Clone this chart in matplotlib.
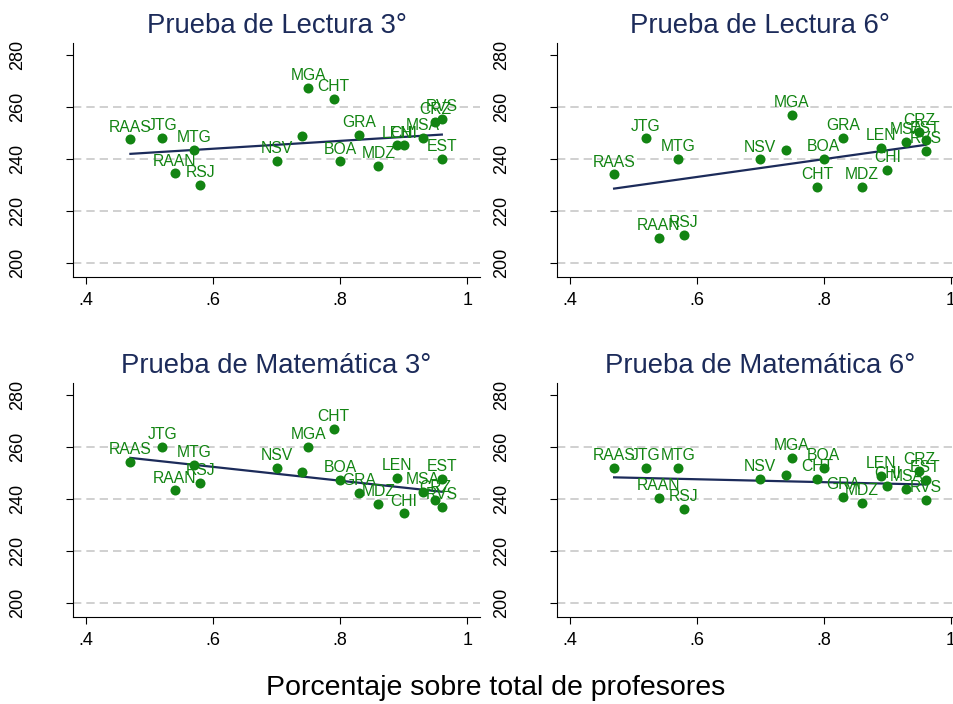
import numpy as np
import matplotlib
matplotlib.use('Agg')
import matplotlib.pyplot as plt

plt.rcParams['font.family'] = ['Liberation Sans', 'DejaVu Sans']

# departamentos (el punto sin etiqueta no lleva nombre en el original)
depto = ["RAAS", "JTG", "RAAN", "MTG", "RSJ", "NSV", "", "MGA", "CHT",
         "BOA", "GRA", "MDZ", "LEN", "CHI", "MSA", "CRZ", "RVS", "EST"]
pct_prof = [0.47, 0.52, 0.54, 0.57, 0.58, 0.70, 0.74, 0.75, 0.79,
            0.80, 0.83, 0.86, 0.89, 0.90, 0.93, 0.95, 0.96, 0.96]

lectura_3 = [247.6, 248.1, 234.5, 243.7, 230.0, 239.3, 249.1, 267.4, 263.1,
             239.1, 249.3, 237.3, 245.3, 245.3, 248.1, 254.2, 255.5, 240.0]
lectura_6 = [234.1, 248.0, 209.6, 240.1, 210.8, 239.9, 243.6, 257.0, 229.3,
             240.1, 248.3, 229.2, 244.3, 235.8, 246.5, 250.3, 243.3, 247.2]
mate_3 = [254.5, 260.1, 243.4, 253.3, 246.4, 252.1, 250.6, 260.1, 267.2,
          247.5, 242.4, 238.3, 248.2, 234.5, 242.8, 239.6, 237.0, 247.9]
mate_6 = [252.0, 252.0, 240.5, 252.0, 236.4, 247.8, 249.3, 256.0, 247.9,
          252.1, 241.0, 238.7, 249.0, 245.1, 244.0, 250.7, 239.8, 247.5]

titulos = ["Prueba de Lectura 3°", "Prueba de Lectura 6°",
           "Prueba de Matemática 3°", "Prueba de Matemática 6°"]
series = [lectura_3, lectura_6, mate_3, mate_6]

yticks = [200, 220, 240, 260, 280]
ygrid = [200, 220, 240, 260]
xticks = [0.4, 0.6, 0.8, 1.0]
xticklabels = [".4", ".6", ".8", "1"]

verde = '#128412'
navy = '#1c2b5a'

fig = plt.figure(figsize=(9.54, 7.04), dpi=100)
posiciones = [[0.0765, 0.607, 0.4266, 0.332],
              [0.5835, 0.607, 0.4266, 0.332],
              [0.0765, 0.124, 0.4266, 0.332],
              [0.5835, 0.124, 0.4266, 0.332]]

for pos, titulo, y in zip(posiciones, titulos, series):
    ax = fig.add_axes(pos)
    x = np.array(pct_prof)
    y = np.array(y)
    for g in ygrid:
        ax.axhline(g, color='#c8c8c8', lw=1.2, dashes=(5, 3), zorder=0)
    ax.scatter(x, y, s=52, color=verde, zorder=3, linewidths=0)
    for nombre, xi, yi in zip(depto, x, y):
        if nombre:
            ax.annotate(nombre, (xi, yi), xytext=(0, 3.5), textcoords='offset points',
                        ha='center', va='bottom', fontsize=11.3, color=verde, zorder=4)
    # recta de ajuste lineal
    b, a = np.polyfit(x, y, 1)
    xs = np.array([x.min(), x.max()])
    ax.plot(xs, a + b * xs, color=navy, lw=1.6, zorder=2)

    ax.set_xlim(0.3796, 1.02)
    ax.set_ylim(194.7, 284.8)
    ax.set_xticks(xticks)
    ax.set_xticklabels(xticklabels)
    ax.set_yticks(yticks)
    ax.spines['top'].set_visible(False)
    ax.spines['right'].set_visible(False)
    ax.spines['left'].set_linewidth(0.8)
    ax.spines['bottom'].set_linewidth(0.8)
    ax.tick_params(axis='x', length=4.8, width=0.8, labelsize=13, pad=6)
    ax.tick_params(axis='y', length=4.8, width=0.8, labelsize=13, pad=29)
    plt.setp(ax.get_yticklabels(), rotation=90, va='center')
    ax.set_title(titulo, fontsize=19.8, color=navy, pad=7)

fig.text(0.52, 0.0128, 'Porcentaje sobre total de profesores', ha='center',
         va='baseline', fontsize=20.5)

plt.savefig('out.png', dpi=100)
